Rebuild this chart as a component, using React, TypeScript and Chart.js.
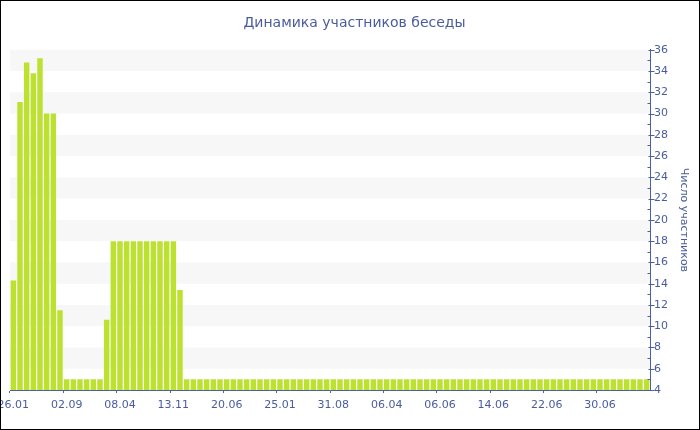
import React, { useEffect, useRef } from 'react';
import { Chart, registerables } from 'chart.js';

Chart.register(...registerables);

const chartTitle = 'Динамика участников беседы';
const yAxisTitle = 'Число участников';
const tickLabels = ['26.01', '02.09', '08.04', '13.11', '20.06', '25.01', '31.08', '06.04', '06.06', '14.06', '22.06', '30.06'];
const labelEvery = 8;
const participants = [
  14.3, 31.1, 34.8, 33.8, 35.2, 30, 30, 11.5,
  5, 5, 5, 5, 5, 5, 10.6, 18,
  18, 18, 18, 18, 18, 18, 18, 18,
  18, 13.4, 5, 5, 5, 5, 5, 5,
  5, 5, 5, 5, 5, 5, 5, 5,
  5, 5, 5, 5, 5, 5, 5, 5,
  5, 5, 5, 5, 5, 5, 5, 5,
  5, 5, 5, 5, 5, 5, 5, 5,
  5, 5, 5, 5, 5, 5, 5, 5,
  5, 5, 5, 5, 5, 5, 5, 5,
  5, 5, 5, 5, 5, 5, 5, 5,
  5, 5, 5, 5, 5, 5, 5, 5,
];
const yMin = 4;
const yMax = 36;
const yStep = 2;

const TEXT = '#4a5c9f';
const AXIS = '#4a5fa6';
const BAR = '#bde130';
const BAND = '#f7f7f7';
const FONT = 'DejaVu Sans';

const bandsPlugin = {
  id: 'bands',
  beforeDatasetsDraw(chart: any) {
    const { ctx, chartArea } = chart;
    const y = chart.scales.y;
    ctx.save();
    ctx.fillStyle = BAND;
    for (let v = yMax; v > yMin; v -= 2 * yStep) {
      const top = y.getPixelForValue(v);
      const bot = y.getPixelForValue(v - yStep);
      ctx.fillRect(chartArea.left, top, chartArea.right - chartArea.left, bot - top);
    }
    ctx.restore();
  },
};

const yTicksPlugin = {
  id: 'yTicks',
  afterDraw(chart: any) {
    const { ctx, chartArea } = chart;
    const y = chart.scales.y;
    const x = Math.round(chartArea.right) + 0.5;
    ctx.save();
    ctx.strokeStyle = AXIS;
    ctx.lineWidth = 1;
    for (let v = yMin; v <= yMax; v += 1) {
      const py = Math.round(y.getPixelForValue(v)) + 0.5;
      ctx.beginPath();
      if (v % yStep === 0) {
        ctx.moveTo(x - 2, py);
        ctx.lineTo(x + 4, py);
      } else {
        ctx.moveTo(x - 3, py);
        ctx.lineTo(x, py);
      }
      ctx.stroke();
    }
    ctx.restore();
  },
};

export default function App() {
  const ref = useRef<HTMLCanvasElement>(null);
  useEffect(() => {
    if (!ref.current) return;
    Chart.defaults.font.family = FONT;
    const labels = participants.map((_, i) => (i % labelEvery === 0 ? tickLabels[i / labelEvery] ?? '' : ''));
    const chart = new Chart(ref.current, {
      type: 'bar',
      data: {
        labels,
        datasets: [
          {
            data: participants,
            backgroundColor: BAR,
            borderWidth: 0,
            barPercentage: 0.82,
            categoryPercentage: 1,
          },
        ],
      },
      options: {
        responsive: false,
        animation: false,
        layout: { padding: { left: 9, right: 0, top: 0, bottom: 0 }, autoPadding: false },
        plugins: {
          legend: { display: false },
          tooltip: { enabled: false },
          title: {
            display: true,
            text: chartTitle,
            color: TEXT,
            font: { size: 14, weight: 'normal', family: FONT },
            padding: { top: 14, bottom: 18 },
          },
        },
        scales: {
          x: {
            grid: {
              display: true,
              drawOnChartArea: false,
              drawTicks: true,
              tickLength: 3,
              tickColor: (ctx: any) => (ctx.index % labelEvery === 0 ? AXIS : 'rgba(0,0,0,0)'),
            },
            border: { display: true, color: AXIS },
            ticks: {
              autoSkip: false,
              maxRotation: 0,
              minRotation: 0,
              padding: 6,
              color: TEXT,
              font: { size: 11, family: FONT },
            },
            afterFit(scale: any) {
              scale.height = 39;
              scale.paddingLeft = 0;
              scale.paddingRight = 0;
            },
          },
          y: {
            position: 'right',
            min: yMin,
            max: yMax,
            grid: { display: true, drawOnChartArea: false, drawTicks: false },
            border: { display: true, color: AXIS },
            ticks: {
              stepSize: yStep,
              padding: 4,
              color: TEXT,
              font: { size: 11, family: FONT },
            },
            title: {
              display: true,
              text: yAxisTitle,
              color: TEXT,
              font: { size: 11, family: FONT },
              padding: { top: 9, bottom: 0 },
            },
            afterFit(scale: any) {
              scale.width = 49;
              scale.paddingTop = 0;
              scale.paddingBottom = 0;
            },
          },
        },
      },
      plugins: [bandsPlugin, yTicksPlugin],
    } as any);
    return () => chart.destroy();
  }, []);
  return (
    <div
      style={{
        position: 'fixed',
        left: 0,
        top: 0,
        width: 700,
        height: 430,
        boxSizing: 'border-box',
        border: '1px solid #000',
        background: '#fff',
      }}
    >
      <canvas ref={ref} width={698} height={428} style={{ display: 'block', width: 698, height: 428 }} />
    </div>
  );
}
